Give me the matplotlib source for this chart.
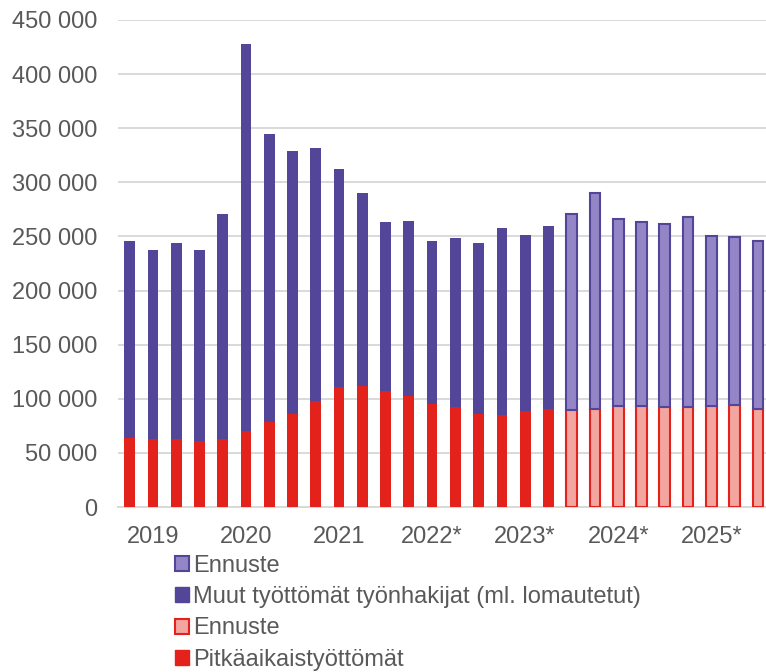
import matplotlib
matplotlib.use("Agg")
import matplotlib.pyplot as plt
from matplotlib.patches import Patch
from matplotlib.ticker import FuncFormatter, MultipleLocator

plt.rcParams["font.family"] = ["Liberation Sans", "DejaVu Sans"]

# neljännesvuodet 2019Q1 - 2025Q4, tuhansina
pitka = [64, 62.5, 63, 61, 63, 70.5, 78.5, 86, 97.5, 111, 111.5, 107, 103, 95.5,
         92, 86, 85, 88.5, 90.5, 89.5, 90.5, 93.5, 93, 92, 92.5, 93.5, 94.5, 91]
muut = [182, 175, 180.5, 176.5, 207.5, 357.5, 266.5, 243, 234, 201.5, 179, 156.5,
        161, 150, 156.5, 157.5, 172.5, 162.5, 169.5, 181, 199.5, 172.5, 170.5,
        169.5, 175.5, 156.5, 155, 154.5]
n_toteutunut = 19  # loput ennustetta
vuodet = ["2019", "2020", "2021", "2022*", "2023*", "2024*", "2025*"]

RED = "#E3231B"
RED_L = "#F3A59F"
PURPLE = "#534597"
PURPLE_L = "#9486C6"
GREY_TXT = "#595959"

fig = plt.figure(figsize=(7.66, 6.72), dpi=100)
ax = fig.add_axes([118 / 766, 165 / 672, 648 / 766, 487 / 672])

x = list(range(len(pitka)))
w = 0.46
red_v = [v * 1000 for v in pitka]
pur_v = [v * 1000 for v in muut]

for i in x:
    if i < n_toteutunut:
        ax.bar(i, red_v[i], w, color=RED, zorder=3)
        ax.bar(i, pur_v[i], w, bottom=red_v[i], color=PURPLE, zorder=3)
    else:
        ax.bar(i, red_v[i], w, color=RED_L, edgecolor=RED, linewidth=1.5, zorder=3)
        ax.bar(i, pur_v[i], w, bottom=red_v[i], color=PURPLE_L, edgecolor=PURPLE,
               linewidth=1.5, zorder=3)

ax.set_xlim(-0.5, 27.35)
ax.set_ylim(0, 450000)
ax.yaxis.set_major_locator(MultipleLocator(50000))
ax.yaxis.set_major_formatter(FuncFormatter(lambda v, p: f"{int(v):,}".replace(",", " ")))
ax.grid(axis="y", color="#D9D9D9", linewidth=1.4, zorder=0)
ax.set_axisbelow(True)

ax.set_xticks([1 + 4 * k for k in range(len(vuodet))])
ax.set_xticklabels(vuodet)
for s in ["top", "right", "left"]:
    ax.spines[s].set_visible(False)
ax.spines["bottom"].set_color("#D9D9D9")
ax.spines["bottom"].set_linewidth(1.4)
ax.tick_params(axis="both", length=0, labelsize=17, colors=GREY_TXT)
ax.tick_params(axis="y", pad=15)
ax.tick_params(axis="x", pad=13.5)

handles = [
    Patch(facecolor=PURPLE_L, edgecolor=PURPLE, linewidth=1.5, label="Ennuste"),
    Patch(facecolor=PURPLE, edgecolor=PURPLE, label="Muut työttömät työnhakijat (ml. lomautetut)"),
    Patch(facecolor=RED_L, edgecolor=RED, linewidth=1.5, label="Ennuste"),
    Patch(facecolor=RED, edgecolor=RED, label="Pitkäaikaistyöttömät"),
]
leg = fig.legend(handles=handles, loc="upper left", bbox_to_anchor=(175 / 766, 1 - 555 / 672),
                 frameon=False, fontsize=17, handlelength=0.6, handleheight=0.6,
                 handletextpad=0.18, labelspacing=0.39, borderaxespad=0, borderpad=0)
for t in leg.get_texts():
    t.set_color(GREY_TXT)

fig.savefig("out.png", dpi=100)
